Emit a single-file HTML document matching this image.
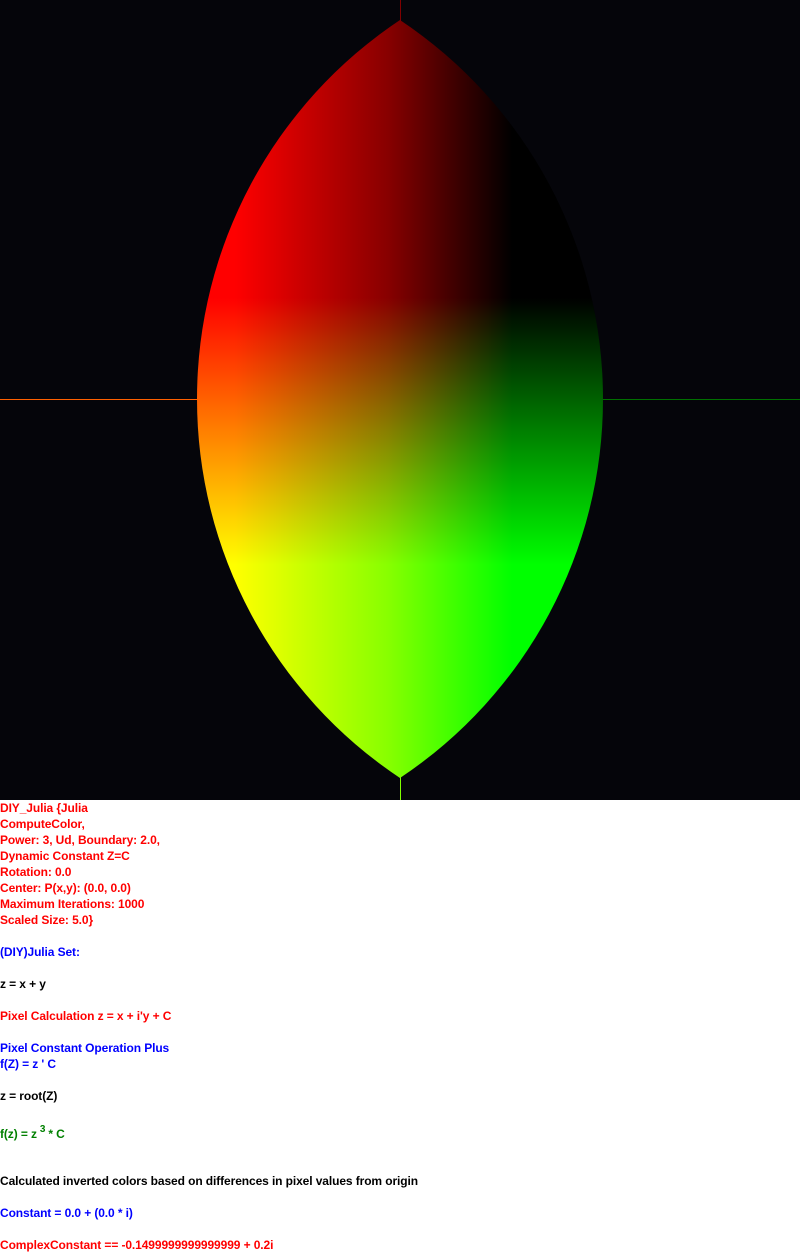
<!DOCTYPE html>
<html><head><meta charset="utf-8"><style>
body{margin:0;width:800px;height:1253px;background:#fff;overflow:hidden;position:relative;font-family:"Liberation Sans",Arial,sans-serif;}
#chart{position:absolute;left:0;top:0;}
.t{position:absolute;left:0;font-size:12px;font-weight:bold;line-height:16px;white-space:pre;letter-spacing:-0.1px;}
.r{color:#ff0000}.b{color:#0000ff}.g{color:#008000}.k{color:#000}
sup{font-size:10px;vertical-align:6px;margin:0 3px}
</style></head><body>
<svg id="chart" width="800" height="800" viewBox="0 0 800 800">
<defs>
<linearGradient id="rg" x1="235" y1="0" x2="512" y2="0" gradientUnits="userSpaceOnUse"><stop offset="0" stop-color="#ff0000"/><stop offset="0.55" stop-color="#880000"/><stop offset="1" stop-color="#000"/></linearGradient>
<linearGradient id="gg" x1="0" y1="298" x2="0" y2="565" gradientUnits="userSpaceOnUse"><stop offset="0" stop-color="#000"/><stop offset="1" stop-color="#00ff00"/></linearGradient>
<clipPath id="lens"><path d="M400,20 A455.3,455.3 0 0 0 400,778 A455.3,455.3 0 0 0 400,20 Z"/></clipPath>
</defs>
<rect width="800" height="800" fill="#05050a"/>
<line x1="400.5" y1="0" x2="400.5" y2="22" stroke="#800000"/>
<line x1="400.5" y1="776" x2="400.5" y2="800" stroke="#80ff00"/>
<line x1="0" y1="399.5" x2="200" y2="399.5" stroke="#ff6000"/>
<line x1="600" y1="399.5" x2="800" y2="399.5" stroke="#007000"/>
<g clip-path="url(#lens)">
<rect width="800" height="800" fill="url(#rg)"/>
<rect width="800" height="800" fill="url(#gg)" style="mix-blend-mode:screen"/>
</g>
</svg>
<div class="t r" style="top:800px">DIY_Julia {Julia
ComputeColor,
Power: 3, Ud, Boundary: 2.0,
Dynamic Constant Z=C
Rotation: 0.0
Center: P(x,y): (0.0, 0.0)
Maximum Iterations: 1000
Scaled Size: 5.0}</div>
<div class="t b" style="top:944px">(DIY)Julia Set:</div>
<div class="t k" style="top:976px">z = x + y</div>
<div class="t r" style="top:1008px">Pixel Calculation z = x + i'y + C</div>
<div class="t b" style="top:1040px">Pixel Constant Operation Plus
f(Z) = z ' C</div>
<div class="t k" style="top:1088px">z = root(Z)</div>
<div class="t g" style="top:1122px">f(z) = z<sup>3</sup>* C</div>
<div class="t k" style="top:1173px">Calculated inverted colors based on differences in pixel values from origin</div>
<div class="t b" style="top:1205px">Constant = 0.0 + (0.0 * i)</div>
<div class="t r" style="top:1237px">ComplexConstant == -0.1499999999999999 + 0.2i</div>
</body></html>
